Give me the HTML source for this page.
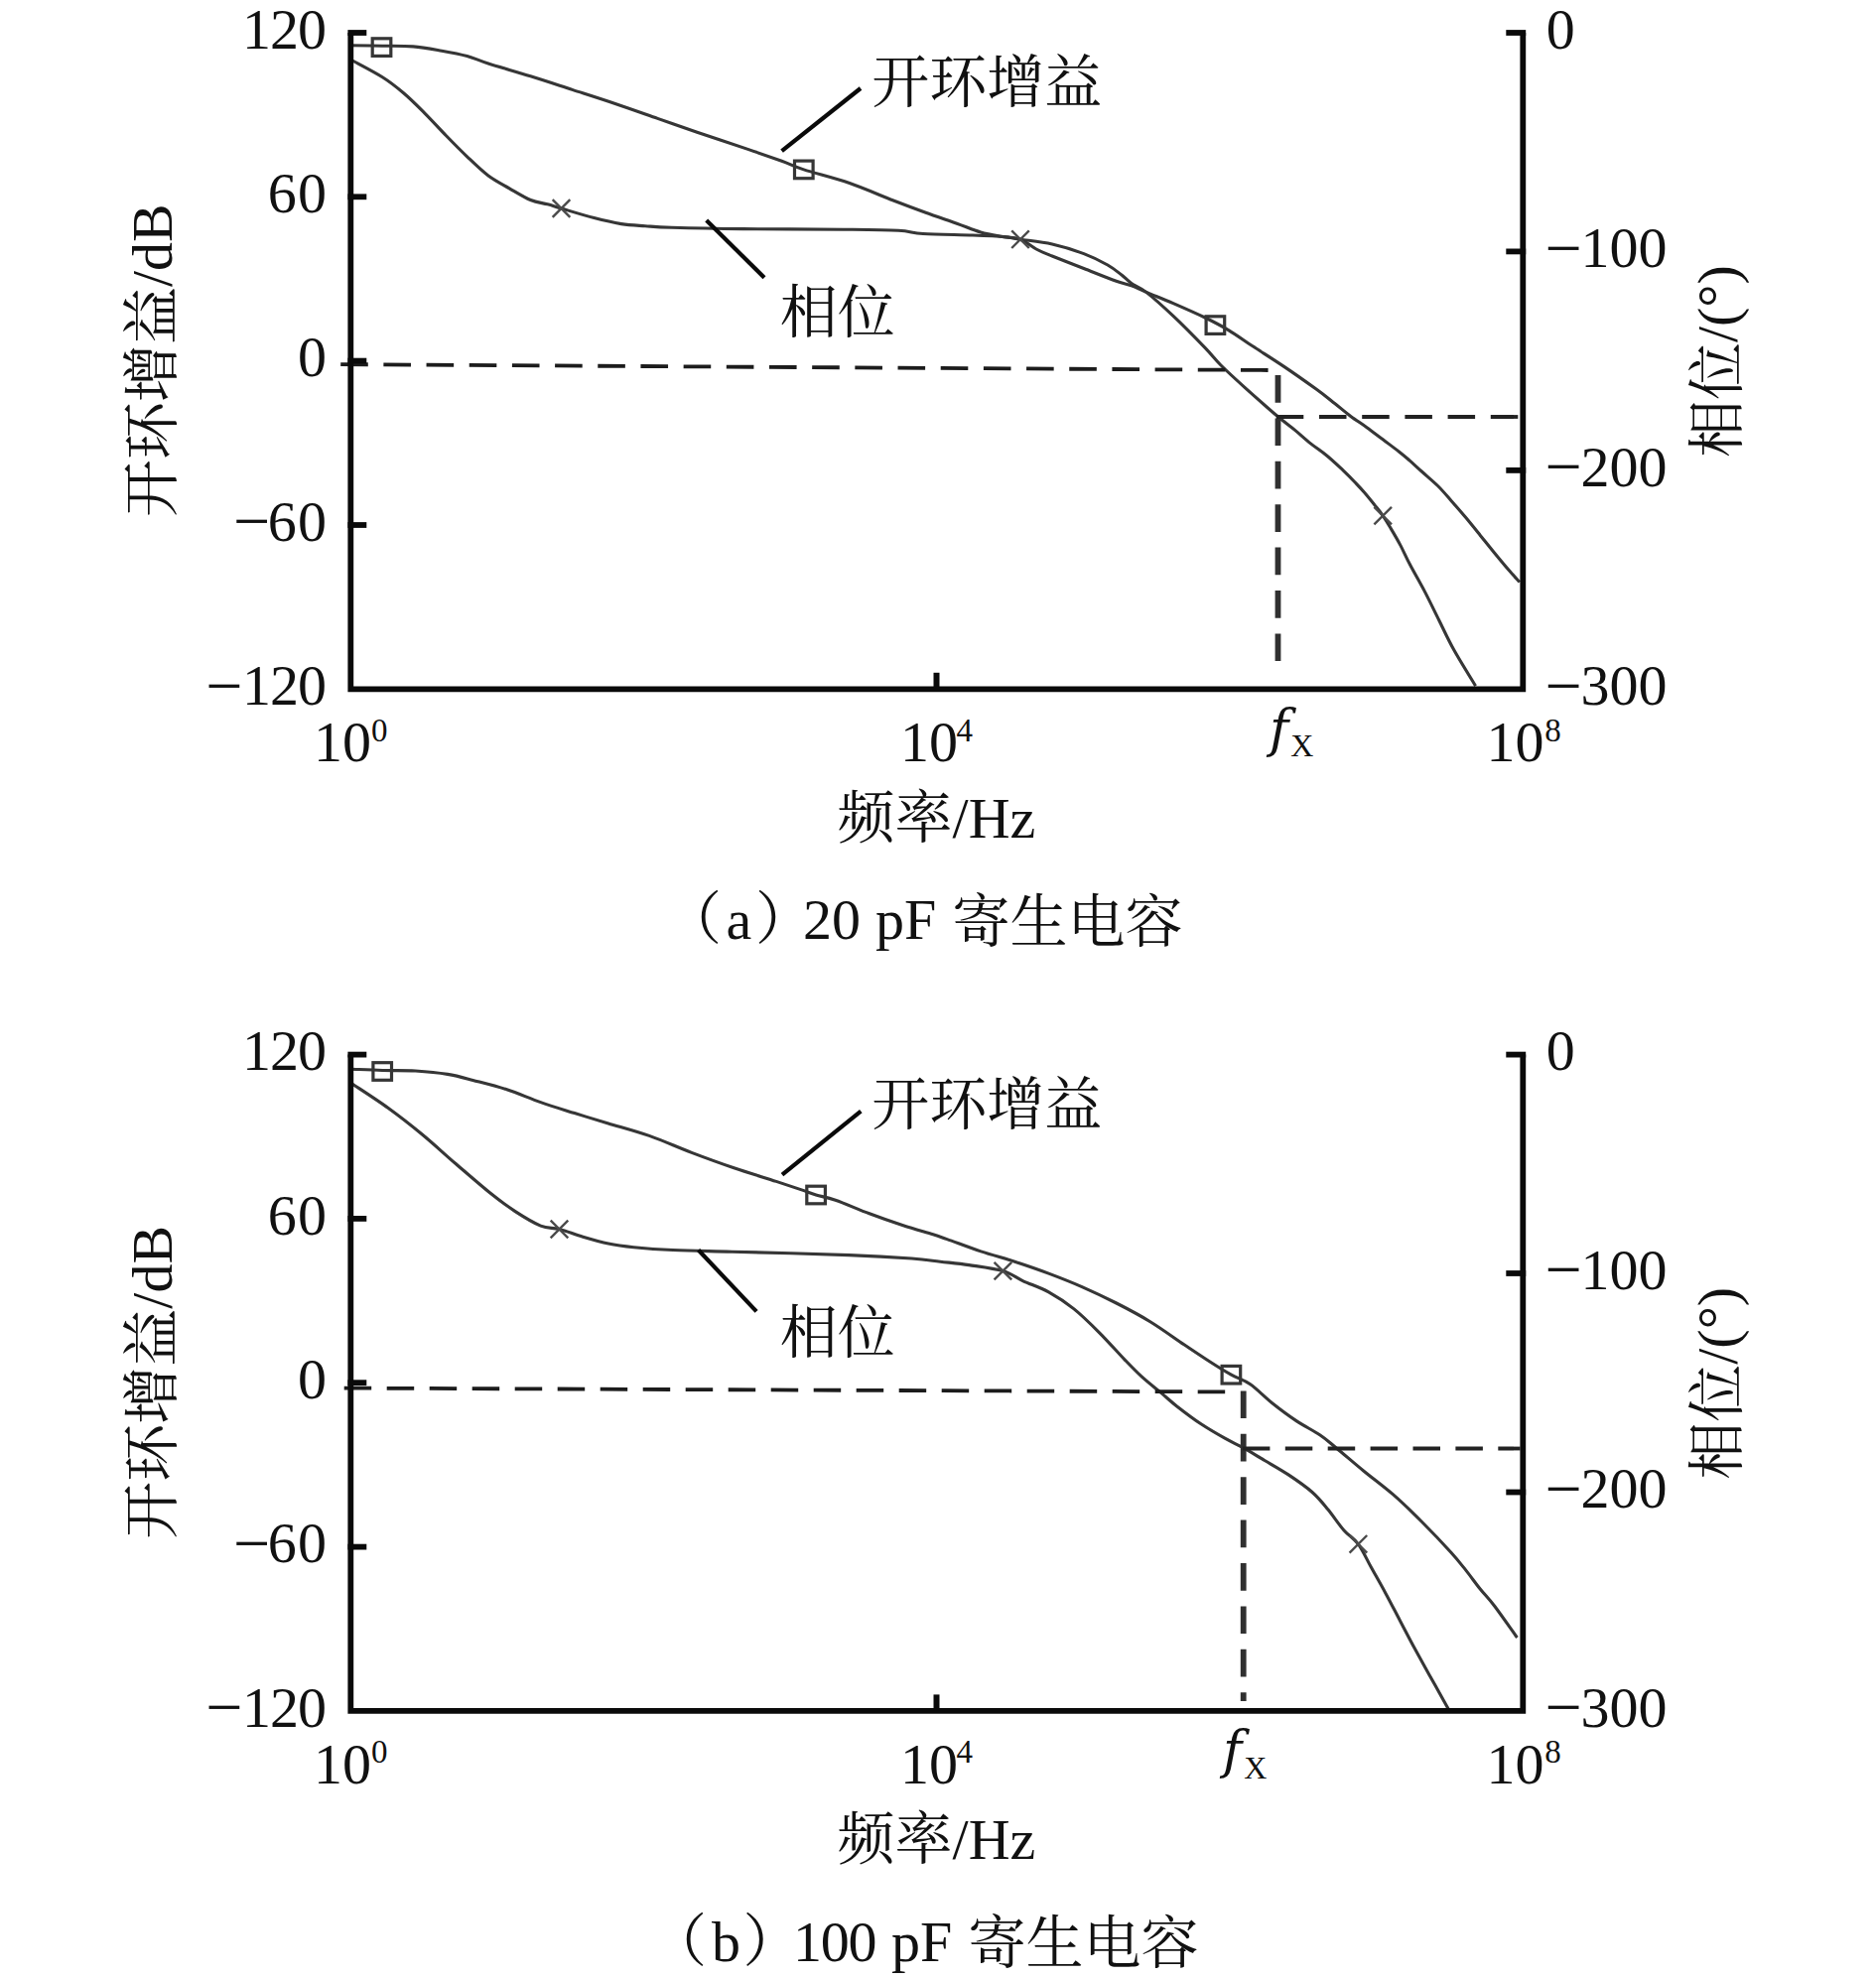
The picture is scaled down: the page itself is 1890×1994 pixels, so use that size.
<!DOCTYPE html>
<html lang="zh">
<head>
<meta charset="utf-8">
<title>开环增益与相位</title>
<style>
html,body{margin:0;padding:0;background:#fff;}
svg{display:block;}
svg text{font-family:"Liberation Serif", "Noto Serif CJK SC", serif;font-size:58px;fill:#111;}
</style>
</head>
<body>
<svg width="1890" height="1994" viewBox="0 0 1890 1994">
<rect width="1890" height="1994" fill="#fff"/>
<path d="M354.0 45.8 C359.2 45.9 374.6 46.0 385.0 46.2 C395.4 46.4 406.2 46.1 416.2 46.9 C426.2 47.7 435.9 49.6 445.0 51.2 C454.1 52.8 462.8 54.4 470.6 56.5 C478.4 58.6 481.2 60.6 491.9 64.0 C502.5 67.4 520.3 72.4 534.5 76.8 C548.7 81.2 563.0 86.0 577.2 90.6 C591.4 95.2 605.6 99.7 619.8 104.5 C634.0 109.3 648.8 114.6 662.5 119.4 C676.2 124.2 687.1 128.1 702.3 133.3 C717.5 138.5 739.3 145.6 753.5 150.4 C767.7 155.2 778.2 158.9 787.6 162.3 C797.0 165.7 798.4 167.2 809.8 170.9 C821.2 174.6 840.9 179.3 855.9 184.5 C870.9 189.7 887.3 197.1 900.0 202.0 C912.7 206.9 921.3 210.1 932.0 214.0 C942.7 217.9 954.7 221.9 964.0 225.2 C973.3 228.5 980.3 231.8 988.0 234.0 C995.7 236.2 1003.3 237.3 1010.0 238.5 C1016.7 239.7 1022.3 239.1 1028.0 241.2 C1033.7 243.3 1038.7 248.2 1044.0 251.0 C1049.3 253.8 1052.0 254.8 1060.0 258.0 C1068.0 261.2 1081.2 266.3 1091.9 270.5 C1102.6 274.7 1115.9 280.1 1123.9 283.0 C1131.9 285.9 1134.8 285.9 1139.9 287.8 C1145.1 289.7 1147.8 291.4 1154.8 294.4 C1161.8 297.4 1172.1 301.3 1182.0 305.6 C1191.9 309.9 1204.7 315.5 1214.0 320.0 C1223.3 324.5 1230.0 328.0 1238.0 332.8 C1246.0 337.6 1252.7 342.7 1262.0 348.8 C1271.3 354.9 1283.3 362.4 1294.0 369.6 C1304.7 376.8 1317.5 385.9 1326.0 392.0 C1334.5 398.1 1338.9 401.9 1344.7 406.5 C1350.5 411.1 1355.4 415.4 1360.8 419.4 C1366.2 423.4 1371.6 426.8 1377.0 430.7 C1382.4 434.6 1387.8 438.8 1393.2 442.8 C1398.6 446.9 1404.8 451.5 1409.3 455.0 C1413.8 458.5 1416.2 460.6 1420.0 463.9 C1423.8 467.2 1427.5 470.7 1432.3 475.0 C1437.0 479.3 1443.5 484.6 1448.5 489.5 C1453.5 494.4 1457.5 499.3 1462.2 504.7 C1466.9 510.1 1472.0 515.8 1476.8 521.6 C1481.6 527.4 1486.6 533.6 1491.3 539.4 C1496.0 545.2 1500.1 550.3 1505.1 556.4 C1510.1 562.5 1517.0 570.8 1521.3 575.8 C1525.6 580.8 1529.4 584.7 1531.0 586.5" fill="none" stroke="#363636" stroke-width="3.1"/>
<path d="M354.0 60.5 C359.2 63.4 376.5 72.2 385.3 77.8 C394.1 83.3 399.5 87.8 406.6 93.8 C413.7 99.8 420.8 107.0 427.9 114.1 C435.0 121.2 442.2 129.2 449.3 136.5 C456.4 143.8 463.5 151.1 470.6 157.8 C477.7 164.6 484.8 171.7 491.9 177.0 C499.0 182.3 506.1 185.7 513.2 189.8 C520.3 193.9 528.1 198.8 534.5 201.5 C540.9 204.2 546.4 204.4 551.6 205.8 C556.8 207.2 557.7 207.7 565.5 210.0 C573.3 212.3 588.4 217.0 598.5 219.6 C608.6 222.2 617.4 224.2 626.0 225.6 C634.6 226.9 641.5 227.1 650.0 227.7 C658.5 228.3 660.4 228.7 676.8 229.2 C693.2 229.7 719.5 230.3 748.4 230.6 C777.3 230.9 823.9 230.9 850.0 231.2 C876.1 231.5 891.7 231.6 905.0 232.3 C918.3 233.0 917.5 234.7 930.0 235.5 C942.5 236.3 966.3 236.5 980.0 237.0 C993.7 237.5 1004.0 237.9 1012.0 238.6 C1020.0 239.3 1020.0 240.0 1028.0 241.2 C1036.0 242.4 1049.3 243.6 1060.0 246.0 C1070.7 248.4 1082.6 252.1 1091.9 255.6 C1101.2 259.1 1109.6 263.4 1115.9 267.0 C1122.2 270.6 1126.0 273.9 1130.0 277.0 C1134.0 280.1 1135.8 282.6 1139.9 285.5 C1144.0 288.4 1147.8 288.9 1154.8 294.4 C1161.8 299.9 1172.1 309.1 1182.0 318.4 C1191.9 327.7 1206.0 342.1 1214.0 350.4 C1222.0 358.7 1223.3 361.4 1230.0 368.0 C1236.7 374.6 1244.4 381.7 1254.0 390.3 C1263.6 398.9 1279.1 412.7 1287.5 419.8 C1295.9 426.9 1298.8 428.6 1304.3 433.1 C1309.8 437.6 1315.0 442.6 1320.4 446.9 C1325.8 451.2 1331.2 454.6 1336.6 459.0 C1342.0 463.4 1348.1 469.2 1352.8 473.6 C1357.5 478.1 1361.3 481.9 1364.9 485.7 C1368.5 489.5 1371.2 492.3 1374.6 496.2 C1378.0 500.1 1382.0 505.2 1385.1 509.1 C1388.2 513.0 1390.5 515.7 1393.2 519.6 C1395.9 523.5 1398.3 527.6 1401.3 532.6 C1404.3 537.6 1407.8 543.5 1411.0 549.6 C1414.2 555.7 1416.5 561.3 1420.6 569.0 C1424.6 576.7 1430.4 586.5 1435.3 595.9 C1440.2 605.3 1445.0 615.4 1449.9 625.2 C1454.8 635.0 1458.5 643.5 1464.6 654.5 C1470.7 665.5 1482.9 685.0 1486.6 691.1" fill="none" stroke="#363636" stroke-width="3.1"/>
<rect x="375.2" y="38.8" width="18.6" height="17.6" fill="none" stroke="#363636" stroke-width="3.2"/>
<rect x="800.5" y="162.1" width="18.6" height="17.6" fill="none" stroke="#363636" stroke-width="3.2"/>
<rect x="1215.1" y="318.8" width="18.6" height="17.6" fill="none" stroke="#363636" stroke-width="3.2"/>
<path d="M556.7 201.2 L574.3 218.8 M556.7 218.8 L574.3 201.2" stroke="#4a4a4a" stroke-width="2.4" fill="none"/>
<path d="M1019.2 232.4 L1036.8 250.0 M1019.2 250.0 L1036.8 232.4" stroke="#4a4a4a" stroke-width="2.4" fill="none"/>
<path d="M1384.4 510.8 L1402.0 528.4 M1384.4 528.4 L1402.0 510.8" stroke="#4a4a4a" stroke-width="2.4" fill="none"/>
<line x1="343.2" y1="367.1" x2="1278.0" y2="373.0" stroke="#1c1c1c" stroke-width="3.8" stroke-dasharray="27.60 15.58"/>
<line x1="1287.5" y1="378.0" x2="1287.5" y2="667.0" stroke="#303030" stroke-width="5.8" stroke-dasharray="27.7 15.7"/>
<line x1="1285.8" y1="420.0" x2="1531.5" y2="420.0" stroke="#222" stroke-width="3.8" stroke-dasharray="27.50 15.70"/>
<line x1="787.6" y1="152.1" x2="867.0" y2="89.0" stroke="#0a0a0a" stroke-width="4.2"/>
<line x1="711.7" y1="222.0" x2="770.0" y2="279.7" stroke="#0a0a0a" stroke-width="4.2"/>
<path d="M353.3 33.0 V694.3 H1534.3 V33.0" fill="none" stroke="#0a0a0a" stroke-width="5.8" stroke-linejoin="miter"/>
<line x1="350.4" y1="33.0" x2="369.3" y2="33.0" stroke="#0a0a0a" stroke-width="5.8"/>
<line x1="350.4" y1="198.3" x2="369.3" y2="198.3" stroke="#0a0a0a" stroke-width="5.8"/>
<line x1="350.4" y1="363.6" x2="369.3" y2="363.6" stroke="#0a0a0a" stroke-width="5.8"/>
<line x1="350.4" y1="529.0" x2="369.3" y2="529.0" stroke="#0a0a0a" stroke-width="5.8"/>
<line x1="1517.3" y1="33.0" x2="1537.2" y2="33.0" stroke="#0a0a0a" stroke-width="5.8"/>
<line x1="1517.3" y1="253.4" x2="1537.2" y2="253.4" stroke="#0a0a0a" stroke-width="5.8"/>
<line x1="1517.3" y1="473.9" x2="1537.2" y2="473.9" stroke="#0a0a0a" stroke-width="5.8"/>
<line x1="943.5" y1="677.8" x2="943.5" y2="694.3" stroke="#0a0a0a" stroke-width="6"/>
<text x="328.0" y="48.8" text-anchor="end" style="letter-spacing:-1px">120</text>
<text x="330.2" y="214.1" text-anchor="end" style="letter-spacing:1.2px">60</text>
<text x="329.0" y="379.4" text-anchor="end" style="letter-spacing:0px">0</text>
<text y="544.8"><tspan x="235.0" dy="2.6" style="font-size:66px">−</tspan><tspan x="330.2" dy="-2.6" text-anchor="end" style="letter-spacing:1.2px">60</tspan></text>
<text y="710.1"><tspan x="207.2" dy="2.6" style="font-size:66px">−</tspan><tspan x="328.0" dy="-2.6" text-anchor="end" style="letter-spacing:-1px">120</tspan></text>
<text x="1557.8" y="48.8">0</text>
<text y="269.2"><tspan x="1556.5" dy="2.6" style="font-size:66px">−</tspan><tspan x="1592.6" dy="-2.6">100</tspan></text>
<text y="489.7"><tspan x="1556.5" dy="2.6" style="font-size:66px">−</tspan><tspan x="1592.6" dy="-2.6">200</tspan></text>
<text y="710.1"><tspan x="1556.5" dy="2.6" style="font-size:66px">−</tspan><tspan x="1592.6" dy="-2.6">300</tspan></text>
<text x="316.0" y="767.3">10<tspan x="374.0" dy="-20.7" style="font-size:33px">0</tspan></text>
<text x="907.0" y="767.3">10<tspan x="963.6" dy="-20.7" style="font-size:33px">4</tspan></text>
<text x="1497.5" y="767.3">10<tspan x="1556.2" dy="-20.7" style="font-size:33px">8</tspan></text>
<text y="751.8"><tspan x="1279.0" style="font-family:'DejaVu Serif','Liberation Serif',serif;font-style:italic;font-size:52px">f</tspan><tspan x="1300.3" dy="10.2" style="font-size:32px">X</tspan></text>
<text x="943.4" y="843.5" text-anchor="middle">频率/Hz</text>
<text transform="translate(172.8 363.1) rotate(-90)" text-anchor="middle">开环增益/dB</text>
<text transform="translate(1749.5 364.1) rotate(-90)" text-anchor="middle">相位/(°)</text>
<text x="878.3" y="103.0">开环增益</text>
<text x="785.8" y="335.0">相位</text>
<text y="946"><tspan x="669">（</tspan><tspan x="731.5">a</tspan><tspan x="761">）</tspan><tspan x="809">20 </tspan><tspan x="882">pF </tspan><tspan x="959.5" dy="2.5">寄生电容</tspan></text>
<path d="M354.0 1077.2 C359.2 1077.4 374.4 1078.2 385.2 1078.5 C395.9 1078.8 407.6 1078.3 418.5 1079.0 C429.4 1079.7 441.2 1080.8 450.9 1082.4 C460.6 1084.0 466.6 1085.8 476.5 1088.4 C486.4 1091.0 499.2 1094.1 510.6 1097.8 C522.0 1101.5 533.3 1106.6 544.7 1110.6 C556.1 1114.6 567.4 1118.0 578.8 1121.6 C590.2 1125.1 600.3 1128.1 612.9 1131.9 C625.5 1135.7 640.1 1139.5 654.1 1144.4 C668.1 1149.3 682.6 1156.0 696.8 1161.4 C711.0 1166.8 725.2 1172.0 739.4 1176.8 C753.6 1181.6 770.6 1186.7 782.0 1190.4 C793.4 1194.1 800.9 1196.6 807.6 1198.9 C814.3 1201.2 816.4 1202.3 822.1 1204.0 C827.8 1205.7 832.7 1206.1 841.7 1209.2 C850.7 1212.3 864.5 1218.5 875.9 1222.8 C887.3 1227.1 899.3 1231.3 910.0 1234.8 C920.7 1238.3 932.6 1241.5 940.0 1243.8 C947.4 1246.1 946.1 1245.8 954.1 1248.6 C962.1 1251.4 976.8 1257.1 988.2 1260.9 C999.6 1264.7 1010.9 1267.5 1022.3 1271.2 C1033.7 1274.9 1045.1 1278.8 1056.5 1283.1 C1067.9 1287.4 1079.2 1291.8 1090.6 1296.8 C1102.0 1301.8 1113.3 1307.2 1124.7 1313.0 C1136.1 1318.8 1147.4 1324.7 1158.8 1331.7 C1170.2 1338.7 1183.0 1348.1 1192.9 1354.8 C1202.9 1361.5 1210.6 1366.7 1218.5 1371.8 C1226.4 1376.9 1233.6 1381.4 1240.4 1385.2 C1247.2 1389.0 1252.7 1390.0 1259.6 1394.8 C1266.5 1399.6 1274.3 1407.9 1282.0 1414.0 C1289.7 1420.1 1298.0 1426.3 1306.0 1431.6 C1314.0 1436.9 1323.3 1441.5 1330.0 1446.0 C1336.7 1450.5 1338.7 1452.7 1346.0 1458.7 C1353.3 1464.7 1364.5 1474.4 1374.0 1482.2 C1383.5 1490.0 1393.5 1497.2 1403.3 1505.7 C1413.1 1514.2 1422.8 1523.7 1432.6 1533.5 C1442.4 1543.3 1454.6 1556.2 1461.9 1564.3 C1469.2 1572.4 1471.7 1575.8 1476.6 1581.9 C1481.5 1588.0 1486.3 1594.9 1491.2 1601.0 C1496.1 1607.1 1499.7 1610.3 1505.9 1618.5 C1512.1 1626.7 1524.7 1644.8 1528.5 1650.0" fill="none" stroke="#363636" stroke-width="3.1"/>
<path d="M354.0 1091.5 C360.2 1095.7 379.3 1107.9 391.2 1116.5 C403.1 1125.1 413.9 1133.6 425.3 1143.0 C436.7 1152.4 448.0 1163.0 459.4 1172.8 C470.8 1182.6 483.6 1193.8 493.5 1201.8 C503.4 1209.8 510.6 1215.0 519.1 1220.6 C527.6 1226.1 537.3 1232.1 544.7 1235.1 C552.1 1238.1 556.4 1236.7 563.5 1238.5 C570.6 1240.3 579.1 1243.8 587.3 1246.2 C595.5 1248.6 604.4 1251.2 612.9 1253.0 C621.4 1254.8 627.6 1255.6 638.5 1256.7 C649.4 1257.8 661.5 1258.8 678.0 1259.5 C694.5 1260.2 708.1 1260.4 737.7 1261.2 C767.3 1262.0 825.3 1263.5 855.4 1264.6 C885.5 1265.7 903.2 1266.9 918.5 1268.0 C933.8 1269.1 937.7 1270.1 947.3 1271.2 C956.9 1272.3 965.8 1273.0 976.3 1274.6 C986.8 1276.2 1001.3 1277.9 1010.4 1280.6 C1019.5 1283.3 1023.2 1287.2 1030.9 1290.8 C1038.6 1294.3 1048.0 1297.2 1056.5 1301.9 C1065.0 1306.6 1073.5 1312.1 1082.0 1318.9 C1090.5 1325.7 1099.1 1334.3 1107.6 1342.8 C1116.1 1351.3 1126.1 1362.7 1133.2 1370.1 C1140.3 1377.5 1144.2 1381.6 1150.3 1387.2 C1156.4 1392.8 1164.0 1398.6 1170.0 1403.6 C1176.0 1408.6 1179.3 1412.0 1186.0 1417.2 C1192.7 1422.4 1202.0 1429.5 1210.0 1434.8 C1218.0 1440.1 1226.9 1445.2 1234.0 1449.2 C1241.1 1453.2 1245.7 1455.0 1252.4 1458.7 C1259.1 1462.4 1266.4 1467.0 1274.0 1471.5 C1281.6 1476.0 1290.0 1480.6 1298.0 1485.9 C1306.0 1491.2 1315.3 1497.6 1322.0 1503.5 C1328.7 1509.4 1332.7 1514.7 1338.0 1521.1 C1343.3 1527.5 1348.9 1536.1 1354.0 1541.9 C1359.1 1547.7 1363.9 1549.6 1368.4 1555.8 C1373.0 1562.0 1376.7 1570.7 1381.3 1579.0 C1385.9 1587.3 1391.1 1596.4 1396.0 1605.4 C1400.9 1614.4 1405.7 1623.9 1410.6 1633.2 C1415.5 1642.5 1420.4 1652.0 1425.3 1661.0 C1430.2 1670.0 1435.0 1678.6 1439.9 1687.4 C1444.8 1696.2 1451.4 1708.0 1454.6 1713.8 C1457.8 1719.6 1458.4 1720.6 1459.2 1722.0" fill="none" stroke="#363636" stroke-width="3.1"/>
<rect x="375.9" y="1070.7" width="18.6" height="17.6" fill="none" stroke="#363636" stroke-width="3.2"/>
<rect x="812.8" y="1195.2" width="18.6" height="17.6" fill="none" stroke="#363636" stroke-width="3.2"/>
<rect x="1231.1" y="1376.4" width="18.6" height="17.6" fill="none" stroke="#363636" stroke-width="3.2"/>
<path d="M554.7 1229.7 L572.3 1247.3 M554.7 1247.3 L572.3 1229.7" stroke="#4a4a4a" stroke-width="2.4" fill="none"/>
<path d="M1001.6 1271.8 L1019.2 1289.4 M1001.6 1289.4 L1019.2 1271.8" stroke="#4a4a4a" stroke-width="2.4" fill="none"/>
<path d="M1359.6 1547.0 L1377.2 1564.6 M1359.6 1564.6 L1377.2 1547.0" stroke="#4a4a4a" stroke-width="2.4" fill="none"/>
<line x1="346.7" y1="1398.6" x2="1234.8" y2="1402.4" stroke="#1c1c1c" stroke-width="3.8" stroke-dasharray="27.50 15.50"/>
<line x1="1252.7" y1="1401.4" x2="1252.7" y2="1714.0" stroke="#303030" stroke-width="5.8" stroke-dasharray="27.7 15.7"/>
<line x1="1251.9" y1="1459.5" x2="1531.5" y2="1459.5" stroke="#222" stroke-width="3.8" stroke-dasharray="27.50 15.40"/>
<line x1="788.0" y1="1183.6" x2="867.3" y2="1119.6" stroke="#0a0a0a" stroke-width="4.2"/>
<line x1="703.6" y1="1259.5" x2="762.1" y2="1321.4" stroke="#0a0a0a" stroke-width="4.2"/>
<path d="M353.3 1062.6 V1723.9 H1534.3 V1062.6" fill="none" stroke="#0a0a0a" stroke-width="5.8" stroke-linejoin="miter"/>
<line x1="350.4" y1="1062.6" x2="369.3" y2="1062.6" stroke="#0a0a0a" stroke-width="5.8"/>
<line x1="350.4" y1="1227.9" x2="369.3" y2="1227.9" stroke="#0a0a0a" stroke-width="5.8"/>
<line x1="350.4" y1="1393.2" x2="369.3" y2="1393.2" stroke="#0a0a0a" stroke-width="5.8"/>
<line x1="350.4" y1="1558.6" x2="369.3" y2="1558.6" stroke="#0a0a0a" stroke-width="5.8"/>
<line x1="1517.3" y1="1062.6" x2="1537.2" y2="1062.6" stroke="#0a0a0a" stroke-width="5.8"/>
<line x1="1517.3" y1="1283.0" x2="1537.2" y2="1283.0" stroke="#0a0a0a" stroke-width="5.8"/>
<line x1="1517.3" y1="1503.5" x2="1537.2" y2="1503.5" stroke="#0a0a0a" stroke-width="5.8"/>
<line x1="943.5" y1="1707.4" x2="943.5" y2="1723.9" stroke="#0a0a0a" stroke-width="6"/>
<text x="328.0" y="1078.4" text-anchor="end" style="letter-spacing:-1px">120</text>
<text x="330.2" y="1243.7" text-anchor="end" style="letter-spacing:1.2px">60</text>
<text x="329.0" y="1409.0" text-anchor="end" style="letter-spacing:0px">0</text>
<text y="1574.4"><tspan x="235.0" dy="2.6" style="font-size:66px">−</tspan><tspan x="330.2" dy="-2.6" text-anchor="end" style="letter-spacing:1.2px">60</tspan></text>
<text y="1739.7"><tspan x="207.2" dy="2.6" style="font-size:66px">−</tspan><tspan x="328.0" dy="-2.6" text-anchor="end" style="letter-spacing:-1px">120</tspan></text>
<text x="1557.8" y="1078.4">0</text>
<text y="1298.8"><tspan x="1556.5" dy="2.6" style="font-size:66px">−</tspan><tspan x="1592.6" dy="-2.6">100</tspan></text>
<text y="1519.3"><tspan x="1556.5" dy="2.6" style="font-size:66px">−</tspan><tspan x="1592.6" dy="-2.6">200</tspan></text>
<text y="1739.7"><tspan x="1556.5" dy="2.6" style="font-size:66px">−</tspan><tspan x="1592.6" dy="-2.6">300</tspan></text>
<text x="316.0" y="1796.9">10<tspan x="374.0" dy="-20.7" style="font-size:33px">0</tspan></text>
<text x="907.0" y="1796.9">10<tspan x="963.6" dy="-20.7" style="font-size:33px">4</tspan></text>
<text x="1497.5" y="1796.9">10<tspan x="1556.2" dy="-20.7" style="font-size:33px">8</tspan></text>
<text y="1781.4"><tspan x="1232.0" style="font-family:'DejaVu Serif','Liberation Serif',serif;font-style:italic;font-size:52px">f</tspan><tspan x="1253.3" dy="10.2" style="font-size:32px">X</tspan></text>
<text x="943.4" y="1873.1" text-anchor="middle">频率/Hz</text>
<text transform="translate(172.8 1392.8) rotate(-90)" text-anchor="middle">开环增益/dB</text>
<text transform="translate(1749.5 1393.8) rotate(-90)" text-anchor="middle">相位/(°)</text>
<text x="878.3" y="1132.6">开环增益</text>
<text x="785.8" y="1363.1">相位</text>
<text y="1975.5"><tspan x="654">（</tspan><tspan x="717">b</tspan><tspan x="748.5">）</tspan><tspan x="799" style="letter-spacing:-1.2px">100 </tspan><tspan x="898">pF </tspan><tspan x="975.5" dy="2.5">寄生电容</tspan></text>
</svg>
</body>
</html>
